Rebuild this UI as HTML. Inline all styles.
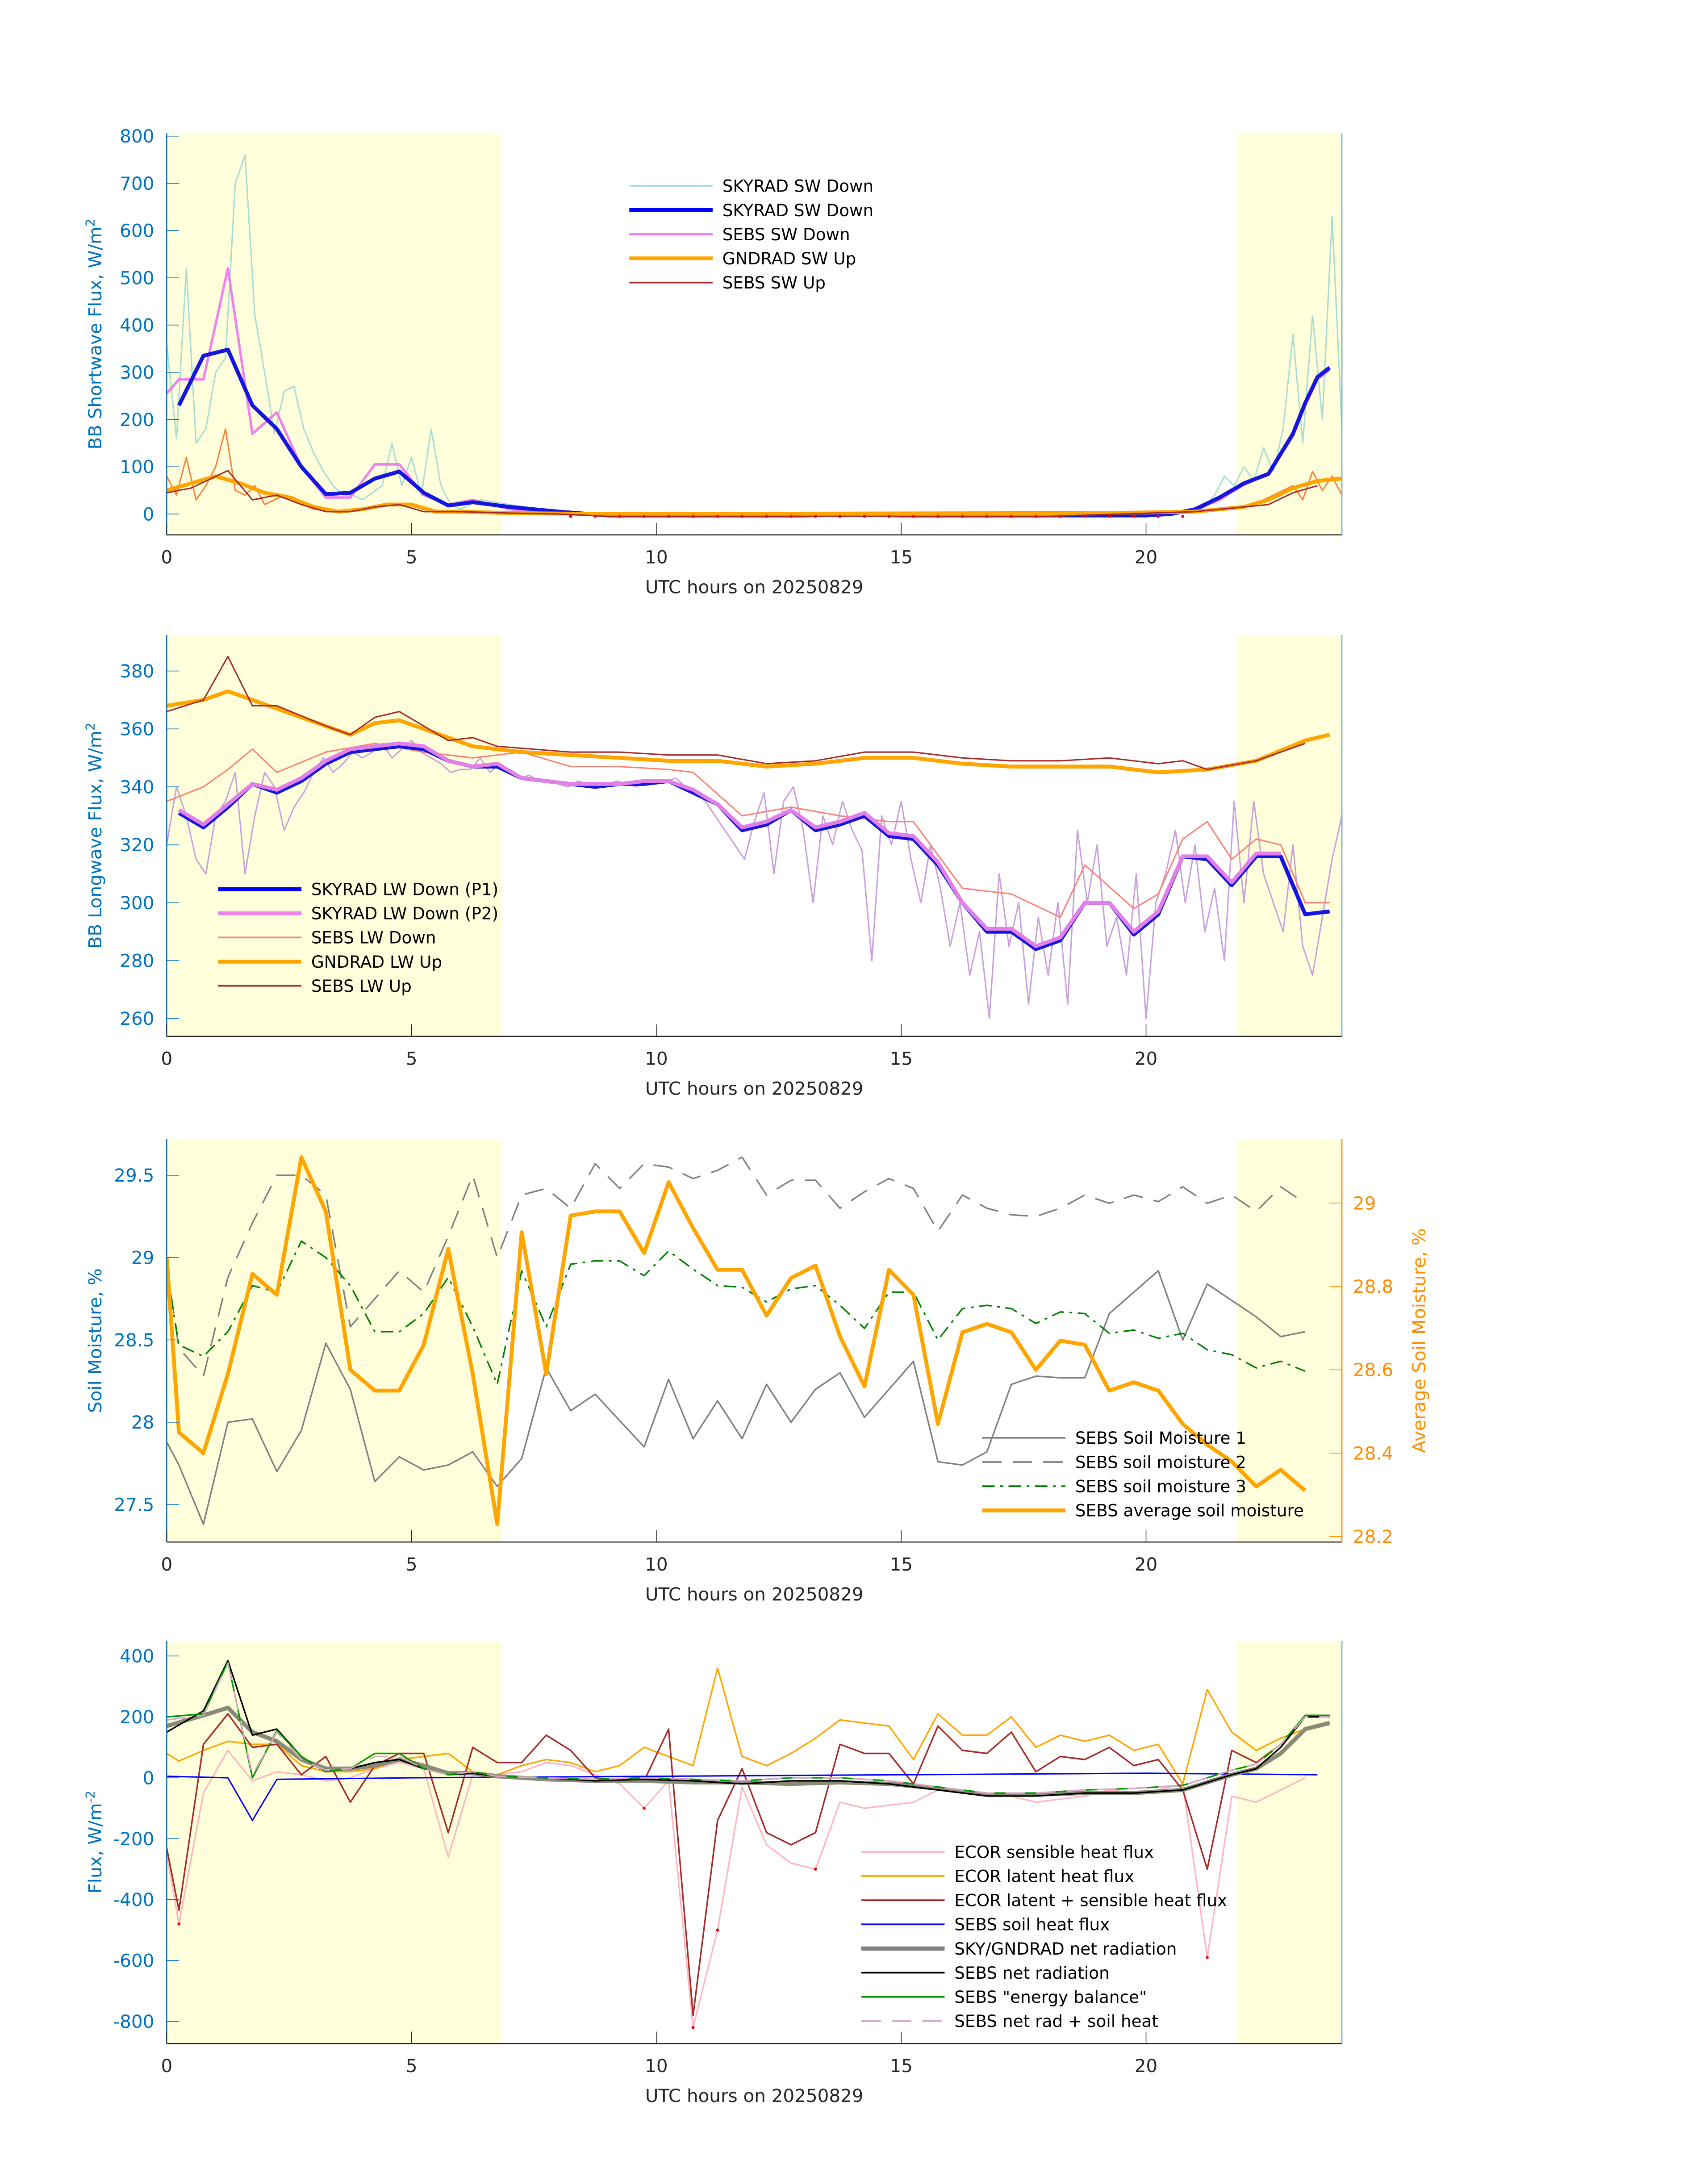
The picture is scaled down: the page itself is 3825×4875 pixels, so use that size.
<!DOCTYPE html>
<html><head><meta charset="utf-8"><style>
html,body{margin:0;padding:0;background:#fff}
svg{display:block}
text{font-family:"DejaVu Sans","Liberation Sans",sans-serif}
</style></head><body>
<svg id="chart" xmlns="http://www.w3.org/2000/svg" width="3825" height="4875" viewBox="0 0 1224 1560">
<rect x="0" y="0" width="1224" height="1560" fill="#fff"/>
<g id="root" transform="scale(0.9955)"></g>
</svg>
<script>
// ---------------- DATA ----------------
const swTealT = [0,0.2,0.4,0.6,0.8,1,1.2,1.4,1.6,1.8,2,2.2,2.4,2.6,2.8,3,3.2,3.4,3.6,3.8,4,4.2,4.4,4.6,4.8,5,5.2,5.4,5.6,5.8,6,6.4,7,8,9,12,15,18,21,21.2,21.4,21.6,21.8,22,22.2,22.4,22.6,22.8,23,23.2,23.4,23.6,23.8,24];
const swTealV = [360,160,520,150,180,300,330,700,760,420,300,170,260,270,180,130,90,60,40,40,30,45,60,150,60,120,40,180,60,20,10,30,20,5,0,0,0,0,5,15,40,80,60,100,70,140,90,180,380,150,420,200,630,180];
const swBlueT = [0.25,0.75,1.25,1.75,2.25,2.75,3.25,3.75,4.25,4.75,5.25,5.75,6.25,7,8,9,10,11,12,13,14,15,16,17,18,19,20,20.5,21,21.5,22,22.5,23,23.25,23.5,23.75];
const swBlueV = [230,335,348,230,180,100,42,45,75,90,45,18,25,15,5,-3,-3,-3,-3,-3,-1,-3,-3,-3,-3,-3,-3,0,10,35,65,85,170,235,290,310];
const swPinkT = [0,0.25,0.75,1.25,1.75,2.25,2.75,3.25,3.75,4.25,4.75,5.25,5.75,6.25,7,8,9,12,15,18,20.5,21,21.5,22,22.5,23,23.25,23.5,23.75];
const swPinkV = [255,285,285,520,170,215,100,35,35,105,105,40,20,30,10,2,0,0,0,0,0,8,30,62,85,165,230,285,305];
const swOrangeT = [0,0.5,1,1.5,2,2.5,3,3.5,4,4.5,5,5.5,6,7,9,12,15,18,21,22,22.5,23,23.5,24];
const swOrangeV = [50,65,80,65,45,35,15,5,10,20,20,5,5,2,0,0,0,0,5,15,30,55,70,75];
const swOrRawT = [0,0.2,0.4,0.6,0.8,1,1.2,1.4,1.6,1.8,2,2.2,2.4,2.6,2.8,3,3.5,4,4.5,5,5.5,6,7,21,21.8,22.2,22.6,23,23.2,23.4,23.6,23.8,24];
const swOrRawV = [80,40,120,30,60,100,180,50,40,60,20,30,40,35,20,10,5,10,20,20,5,5,2,5,15,20,40,60,30,90,50,80,40];
const swRedT = [0,0.5,1.25,1.75,2.25,2.75,3.25,3.75,4.25,4.75,5.25,6,7,8,9,12,15,18,21,22,22.5,23,23.5];
const swRedV = [45,55,92,30,40,20,5,5,15,20,5,5,2,0,-5,-5,-5,-5,5,15,20,45,60];
const swDotT = [8.25,8.75,9.25,9.75,10.25,10.75,11.25,11.75,12.25,12.75,13.25,13.75,14.25,14.75,15.25,15.75,16.25,16.75,17.25,17.75,18.25,18.75,19.25,19.75,20.25,20.75];
const swDotV = [-5,-5,-5,-5,-5,-5,-5,-5,-5,-5,-5,-5,-5,-5,-5,-5,-5,-5,-5,-5,-5,-5,-5,-5,-5,-5];
const swTicks = [0,100,200,300,400,500,600,700,800];

const lwNoiseV = [320,340,330,315,310,330,335,345,310,330,345,
 340,325,333,338,345,350,345,348,352,350,
 352,355,350,353,356,352,350,348,345,346,
 346,350,345,348,345,343,344,342,342,341,
 340,342,341,340,341,342,341,340,342,342,
 342,343,340,338,335,330,325,320,315,328,
 338,310,335,340,325,300,330,320,335,325,
 318,280,330,320,335,315,300,320,305,285,
 300,275,290,260,310,285,300,265,295,275,
 300,265,325,300,320,285,295,275,310,260,
 300,310,325,300,320,290,305,280,335,300,
 335,310,300,290,320,285,275,295,315,330];
const lwBlueT = [0.25,0.75,1.25,1.75,2.25,2.75,3.25,3.75,4.25,4.75,5.25,5.75,6.25,6.75,7.25,7.75,8.25,8.75,9.25,9.75,10.25,10.75,11.25,11.75,12.25,12.75,13.25,13.75,14.25,14.75,15.25,15.75,16.25,16.75,17.25,17.75,18.25,18.75,19.25,19.75,20.25,20.75,21.25,21.75,22.25,22.75,23.25,23.75];
const lwBlueV = [331,326,333,341,338,342,348,352,353,354,353,349,347,347,343,342,341,340,341,341,342,338,334,325,327,332,325,327,330,323,322,313,300,290,290,284,287,300,300,289,296,316,315,306,316,316,296,297];
const lwPinkV = [332,327,334,341,339,343,349,353,354,355,354,349,347,348,343,342,341,341,341,342,342,339,334,326,328,332,326,328,331,324,323,314,300,291,291,285,288,300,300,290,297,316,316,307,317,317,298,299];
const lwSalT = [0,0.75,1.25,1.75,2.25,3.25,4.25,5.25,6.25,7.25,8.25,9.25,10.25,10.75,11.75,12.75,13.75,14.75,15.25,16.25,17.25,18.25,18.75,19.75,20.25,20.75,21.25,21.75,22.25,22.75,23.25,23.75];
const lwSalV = [335,340,346,353,345,352,355,352,350,352,347,347,346,345,330,333,330,328,328,305,303,295,313,298,303,322,328,315,322,320,300,300];
const lwOrT = [0,0.75,1.25,1.75,2.25,3.25,3.75,4.25,4.75,5.25,6.25,7.25,8.25,9.25,10.25,11.25,12.25,13.25,14.25,15.25,16.25,17.25,18.25,19.25,20.25,21.25,22.25,23.25,23.75];
const lwOrV = [368,370,373,370,367,361,358,362,363,360,354,352,351,350,349,349,347,348,350,350,348,347,347,347,345,346,349,356,358];
const lwRedT = [0,0.75,1.25,1.75,2.25,3.25,3.75,4.25,4.75,5.25,5.75,6.25,6.75,8.25,9.25,10.25,11.25,12.25,13.25,14.25,15.25,16.25,17.25,18.25,19.25,20.25,20.75,21.25,22.25,23.25];
const lwRedV = [366,370,385,368,368,361,358,364,366,361,356,357,354,352,352,351,351,348,349,352,352,350,349,349,350,348,349,346,349,355];
const lwTicks = [260,280,300,320,340,360,380];

const smT = [0,0.25,0.75,1.25,1.75,2.25,2.75,3.25,3.75,4.25,4.75,5.25,5.75,6.25,6.75,7.25,7.75,8.25,8.75,9.25,9.75,10.25,10.75,11.25,11.75,12.25,12.75,13.25,13.75,14.25,14.75,15.25,15.75,16.25,16.75,17.25,17.75,18.25,18.75,19.25,19.75,20.25,20.75,21.25,21.75,22.25,22.75,23.25];
const sm1 = [27.88,27.74,27.38,28.0,28.02,27.7,27.95,28.48,28.2,27.64,27.79,27.71,27.74,27.82,27.61,27.78,28.33,28.07,28.17,28.01,27.85,28.26,27.9,28.13,27.9,28.23,28.0,28.2,28.3,28.03,28.2,28.37,27.76,27.74,27.82,28.23,28.28,28.27,28.27,28.66,28.79,28.92,28.5,28.84,28.74,28.64,28.52,28.55];
const sm2 = [28.96,28.45,28.28,28.88,29.21,29.5,29.5,29.38,28.58,28.75,28.92,28.79,29.13,29.5,29.0,29.38,29.42,29.3,29.57,29.42,29.57,29.55,29.48,29.53,29.61,29.38,29.47,29.47,29.3,29.4,29.48,29.42,29.16,29.38,29.3,29.26,29.25,29.3,29.38,29.33,29.38,29.34,29.43,29.33,29.38,29.28,29.43,29.33];
const sm3 = [28.92,28.47,28.4,28.55,28.83,28.79,29.1,29.0,28.83,28.55,28.55,28.66,28.88,28.58,28.23,28.92,28.58,28.96,28.98,28.98,28.89,29.04,28.93,28.83,28.82,28.73,28.81,28.83,28.71,28.57,28.79,28.79,28.5,28.69,28.71,28.69,28.6,28.67,28.66,28.54,28.56,28.51,28.54,28.44,28.41,28.33,28.37,28.31];
const smAvg = [28.87,28.45,28.4,28.59,28.83,28.78,29.11,28.98,28.6,28.55,28.55,28.66,28.89,28.59,28.23,28.93,28.59,28.97,28.98,28.98,28.88,29.05,28.94,28.84,28.84,28.73,28.82,28.85,28.68,28.56,28.84,28.78,28.47,28.69,28.71,28.69,28.6,28.67,28.66,28.55,28.57,28.55,28.47,28.42,28.38,28.32,28.36,28.31];
const smLeftTicks = [27.5,28,28.5,29,29.5];
const smLeftLabels = ["27.5","28","28.5","29","29.5"];
const smRightTicks = [28.2,28.4,28.6,28.8,29];
const smRightLabels = ["28.2","28.4","28.6","28.8","29"];

const ecT = [0,0.25,0.75,1.25,1.75,2.25,2.75,3.25,3.75,4.25,4.75,5.25,5.75,6.25,6.75,7.25,7.75,8.25,8.75,9.25,9.75,10.25,10.75,11.25,11.75,12.25,12.75,13.25,13.75,14.25,14.75,15.25,15.75,16.25,16.75,17.25,17.75,18.25,18.75,19.25,19.75,20.25,20.75,21.25,21.75,22.25,22.75,23.25];
const ecSens = [-250,-480,-50,90,-10,20,10,-10,0,30,50,30,-260,10,10,20,50,40,10,-20,-100,-10,-820,-500,-30,-220,-280,-300,-80,-100,-90,-80,-40,-50,-60,-60,-80,-70,-60,-40,-50,-40,-20,-590,-60,-80,-40,0];
const ecLat = [80,55,90,120,110,110,40,20,20,30,60,70,80,20,10,40,60,50,20,40,100,70,40,360,70,40,80,130,190,180,170,60,210,140,140,200,100,140,120,140,90,110,-20,290,150,90,130,160];
const ecSum = [-230,-435,110,210,100,110,10,70,-80,40,80,80,-180,100,50,50,140,90,0,-10,-10,160,-780,-140,30,-180,-220,-180,110,80,80,-20,170,90,80,150,20,70,60,100,40,60,-40,-300,90,50,110,200];
const ecFlagT = [0.25,9.75,10.75,11.25,13.25,21.25];
const ecFlagV = [-480,-100,-820,-500,-300,-590];
const shT = [0,1.25,1.75,2.25,5,10,15,20,23.5];
const shV = [5,0,-140,-5,0,5,10,15,10];
const nrT = [0,0.75,1.25,1.75,2.25,2.75,3.25,3.75,4.25,4.75,5.25,5.75,6.25,6.75,7.75,8.75,9.75,10.75,11.75,12.75,13.75,14.75,15.75,16.75,17.75,18.75,19.75,20.75,21.75,22.25,22.75,23.25,23.75];
const nrGray = [170,205,230,150,120,60,30,30,40,60,40,15,15,5,-5,-10,-10,-15,-15,-20,-15,-20,-35,-55,-55,-50,-50,-40,10,30,80,160,180];
const nrBlack = [150,220,385,140,160,70,20,30,50,60,30,10,15,5,0,-10,-5,-10,-20,-10,-10,-20,-40,-60,-60,-50,-50,-40,10,30,100,200,200];
const ebGreen = [200,210,380,0,155,70,20,30,80,80,30,10,20,5,0,-5,0,-5,-10,0,0,-10,-30,-50,-50,-40,-35,-25,25,45,110,205,205];
const nrSoil = [190,205,375,10,150,60,25,30,70,70,30,10,20,5,0,-5,0,-5,-10,0,0,-10,-30,-50,-50,-40,-35,-25,25,45,110,200,200];
const fluxTicks = [-800,-600,-400,-200,0,200,400];
const xTicks = [0,5,10,15,20];

// ---------------- GEOMETRY ----------------
const NS = "http://www.w3.org/2000/svg";
const svg = document.getElementById('chart');
const root = document.getElementById('root');


const X0 = 120, XH = 35.25, X1 = X0 + 24*XH;
function xs(t){ return X0 + t*XH; }
const P1 = {top:96, bot:385, y:v => 370 - v*0.34};
const P2 = {top:457, bot:746, y:v => 483 + (380 - v)*2.085};
const P3 = {top:820, bot:1110, y:v => 846 + (29.5 - v)*118.5, yr:v => 866 + (29 - v)*300};
const P4 = {top:1181, bot:1471, y:v => 1279.7 - v*0.2192};

function mk(tag, attrs, parent){
  const e = document.createElementNS(NS, tag);
  for (const k in attrs) e.setAttribute(k, attrs[k]);
  (parent || root).appendChild(e);
  return e;
}
let defs = document.createElementNS(NS, 'defs');
svg.insertBefore(defs, svg.firstChild);
function clipFor(id, P){
  const cp = mk('clipPath', {id:id}, defs);
  mk('rect', {x:X0, y:P.top, width:X1-X0, height:P.bot-P.top}, cp);
}
function series(T, V, yf, stroke, w, name, dash, clip){
  let d = '';
  for (let i=0;i<T.length;i++){ d += (i?'L':'M') + xs(T[i]).toFixed(2) + ' ' + yf(V[i]).toFixed(2); }
  const p = mk('path', {d:d, fill:'none', stroke:stroke, 'stroke-width':w, 'stroke-linejoin':'round', 'clip-path':'url(#'+clip+')'});
  if (dash) p.setAttribute('stroke-dasharray', dash);
  
  
  return p;
}
function dots(T, V, yf, color, name, clip){
  const g = mk('g', {'clip-path':'url(#'+clip+')'});
  
  
  for (let i=0;i<T.length;i++){
    const c = mk('circle', {cx:xs(T[i]), cy:yf(V[i]), r:1.1, fill:color}, g);
    
    
  }
}
function frame(P, name, clip){
  clipFor(clip, P);
  const g = mk('g', {});
  
  
  mk('rect', {x:X0, y:P.top, width:xs(6.85)-X0, height:P.bot-P.top, fill:'#ffffdc'}, g);
  mk('rect', {x:xs(21.85), y:P.top, width:X1-xs(21.85), height:P.bot-P.top, fill:'#ffffdc'}, g);
}
function axes(P, name, ticks, labels, yf, title, supTitle){
  const g = mk('g', {});
  
  
  mk('line', {x1:X0, y1:P.bot, x2:X1, y2:P.bot, stroke:'#262626', 'stroke-width':0.8}, g);
  mk('line', {x1:X0, y1:P.top, x2:X0, y2:P.bot, stroke:'#0072bd', 'stroke-width':0.8}, g);
  for (let i=0;i<xTicks.length;i++){
    const x = xs(xTicks[i]);
    mk('line', {x1:x, y1:P.bot, x2:x, y2:P.bot-8.6, stroke:'#262626', 'stroke-width':0.5}, g);
    const t = mk('text', {x:x, y:P.bot+20.5, 'font-size':13, 'text-anchor':'middle', fill:'#262626'}, g);
    t.textContent = xTicks[i];
    
    
  }
  const xl = mk('text', {x:(X0+X1)/2, y:P.bot+42, 'font-size':13, 'text-anchor':'middle', fill:'#262626'}, g);
  xl.textContent = 'UTC hours on 20250829';
  
  
  for (let i=0;i<ticks.length;i++){
    const y = yf(ticks[i]);
    mk('line', {x1:X0, y1:y, x2:X0+9, y2:y, stroke:'#0072bd', 'stroke-width':0.5}, g);
    const t = mk('text', {x:111, y:y+4.6, 'font-size':13, 'text-anchor':'end', fill:'#0072bd'}, g);
    t.textContent = labels ? labels[i] : ticks[i];
    
    
  }
  const cy = (P.top + P.bot)/2;
  const yt = mk('text', {x:0, y:0, 'font-size':13, 'text-anchor':'middle', fill:'#0072bd', transform:'translate(73,'+cy+') rotate(-90)'}, g);
  yt.textContent = title;
  if (supTitle){ const s = mk('tspan', {'font-size':9, dy:-5}, yt); s.textContent = supTitle; }
  
  
  return g;
}
function legend(items, lx, ty, name){
  const g = mk('g', {});
  
  
  for (let i=0;i<items.length;i++){
    const it = items[i], y = ty + i*17.4;
    const eg = mk('g', {}, g);
    
    
    const l = mk('line', {x1:lx, y1:y, x2:lx+60, y2:y, stroke:it[1], 'stroke-width':it[2]}, eg);
    if (it[3]) l.setAttribute('stroke-dasharray', it[3]);
    const t = mk('text', {x:lx+67, y:y+4.3, 'font-size':12, fill:'#000'}, eg);
    t.textContent = it[0];
  }
}

// ---------------- PANEL 1 ----------------
frame(P1, 'shortwave-panel', 'c1');
series(swTealT, swTealV, P1.y, '#a8dcd4', 1.0, 'skyrad-sw-down-raw', null, 'c1');
series(swOrRawT, swOrRawV, P1.y, '#ff7f3a', 1.0, 'gndrad-sw-up-raw', null, 'c1');
series(swPinkT, swPinkV, P1.y, '#ee82ee', 1.8, 'sebs-sw-down', null, 'c1');
series(swBlueT, swBlueV, P1.y, '#1515e0', 2.8, 'skyrad-sw-down', null, 'c1');
series(swOrangeT, swOrangeV, P1.y, '#ffa500', 2.8, 'gndrad-sw-up', null, 'c1');
series(swRedT, swRedV, P1.y, '#a52a2a', 1.0, 'sebs-sw-up', null, 'c1');
dots(swDotT, swDotV, P1.y, '#ff0000', 'sw-flag-points', 'c1');
axes(P1, 'shortwave', swTicks, null, P1.y, 'BB Shortwave Flux, W/m', '2');
mk('line', {x1:X1, y1:P1.top, x2:X1, y2:P1.bot, stroke:'#6fb0d8', 'stroke-width':0.8});
legend([['SKYRAD SW Down','#add8e6',1.2],['SKYRAD SW Down','#0000ff',2.8],['SEBS SW Down','#ee82ee',1.8],['GNDRAD SW Up','#ffa500',2.8],['SEBS SW Up','#a52a2a',1.2]], 453, 133.8, 'shortwave-legend');

// ---------------- PANEL 2 ----------------
frame(P2, 'longwave-panel', 'c2');
const lwNoiseT = lwNoiseV.map((v,i)=>i*0.2);
series(lwNoiseT, lwNoiseV, P2.y, '#c9a0dc', 1.0, 'lw-down-raw', null, 'c2');
series(lwSalT, lwSalV, P2.y, '#fa8072', 1.0, 'sebs-lw-down', null, 'c2');
series(lwBlueT, lwBlueV, P2.y, '#1515e0', 2.8, 'skyrad-lw-down-p1', null, 'c2');
series(lwBlueT.slice(0,46), lwPinkV.slice(0,46), P2.y, '#e080e8', 2.8, 'skyrad-lw-down-p2', null, 'c2');
series(lwOrT, lwOrV, P2.y, '#ffa500', 2.8, 'gndrad-lw-up', null, 'c2');
series(lwRedT, lwRedV, P2.y, '#a52a2a', 1.0, 'sebs-lw-up', null, 'c2');
axes(P2, 'longwave', lwTicks, null, P2.y, 'BB Longwave Flux, W/m', '2');
mk('line', {x1:X1, y1:P2.top, x2:X1, y2:P2.bot, stroke:'#6fb0d8', 'stroke-width':0.8});
legend([['SKYRAD LW Down (P1)','#0000ff',2.8],['SKYRAD LW Down (P2)','#ee82ee',2.8],['SEBS LW Down','#fa8072',1.2],['GNDRAD LW Up','#ffa500',2.8],['SEBS LW Up','#a52a2a',1.2]], 157, 640, 'longwave-legend');

// ---------------- PANEL 3 ----------------
frame(P3, 'soil-moisture-panel', 'c3');
series(smT, sm1, P3.y, '#808080', 1.1, 'sebs-soil-moisture-1', null, 'c3');
series(smT, sm2, P3.y, '#808080', 1.1, 'sebs-soil-moisture-2', '14,8', 'c3');
series(smT, sm3, P3.y, '#008000', 1.1, 'sebs-soil-moisture-3', '9,4,2,4', 'c3');
series(smT, smAvg, P3.yr, '#ffa500', 2.8, 'sebs-average-soil-moisture', null, 'c3');
axes(P3, 'soil-moisture', smLeftTicks, smLeftLabels, P3.y, 'Soil Moisture, %', null);
(function(){
  const g = mk('g', {});
  
  
  mk('line', {x1:X1, y1:P3.top, x2:X1, y2:P3.bot, stroke:'#ff8c00', 'stroke-width':0.8}, g);
  for (let i=0;i<smRightTicks.length;i++){
    const y = P3.yr(smRightTicks[i]);
    mk('line', {x1:X1-9, y1:y, x2:X1, y2:y, stroke:'#ff8c00', 'stroke-width':0.5}, g);
    const t = mk('text', {x:X1+8, y:y+4.6, 'font-size':13, fill:'#ff8c00'}, g);
    t.textContent = smRightLabels[i];
  }
  const yt = mk('text', {x:0, y:0, 'font-size':13, 'text-anchor':'middle', fill:'#ff8c00', transform:'translate(1026,'+((P3.top+P3.bot)/2)+') rotate(-90)'}, g);
  yt.textContent = 'Average Soil Moisture, %';
  
  
})();
legend([['SEBS Soil Moisture 1','#808080',1.2],['SEBS soil moisture 2','#808080',1.2,'14,8'],['SEBS soil moisture 3','#008000',1.2,'9,4,2,4'],['SEBS average soil moisture','#ffa500',2.8]], 707, 1035, 'soil-moisture-legend');

// ---------------- PANEL 4 ----------------
frame(P4, 'flux-panel', 'c4');
series(ecT, ecSens, P4.y, '#ffb6c1', 1.1, 'ecor-sensible-heat-flux', null, 'c4');
series(ecT, ecLat, P4.y, '#ffa500', 1.1, 'ecor-latent-heat-flux', null, 'c4');
series(ecT, ecSum, P4.y, '#a52a2a', 1.1, 'ecor-latent-plus-sensible', null, 'c4');
dots(ecFlagT, ecFlagV, P4.y, '#ff0000', 'ecor-flag-points', 'c4');
series(shT, shV, P4.y, '#0000ff', 1.0, 'sebs-soil-heat-flux', null, 'c4');
series(nrT, nrGray, P4.y, '#8a8a78', 3.0, 'sky-gndrad-net-radiation', null, 'c4');
series(nrT, nrBlack, P4.y, '#000000', 1.1, 'sebs-net-radiation', null, 'c4');
series(nrT, ebGreen, P4.y, '#009900', 1.1, 'sebs-energy-balance', null, 'c4');
series(nrT, nrSoil, P4.y, '#d8a8c8', 1.1, 'sebs-net-rad-plus-soil-heat', '14,8', 'c4');
axes(P4, 'flux', fluxTicks, null, P4.y, 'Flux, W/m', '-2');
mk('line', {x1:X1, y1:P4.top, x2:X1, y2:P4.bot, stroke:'#6fb0d8', 'stroke-width':0.8});
legend([['ECOR sensible heat flux','#ffb6c1',1.2],['ECOR latent heat flux','#ffa500',1.2],['ECOR latent + sensible heat flux','#a52a2a',1.2],['SEBS soil heat flux','#0000ff',1.2],['SKY/GNDRAD net radiation','#808080',3.0],['SEBS net radiation','#000000',1.2],['SEBS "energy balance"','#009900',1.2],['SEBS net rad + soil heat','#d8a8c8',1.2,'14,8']], 620, 1333, 'flux-legend');
</script>
</body></html>
